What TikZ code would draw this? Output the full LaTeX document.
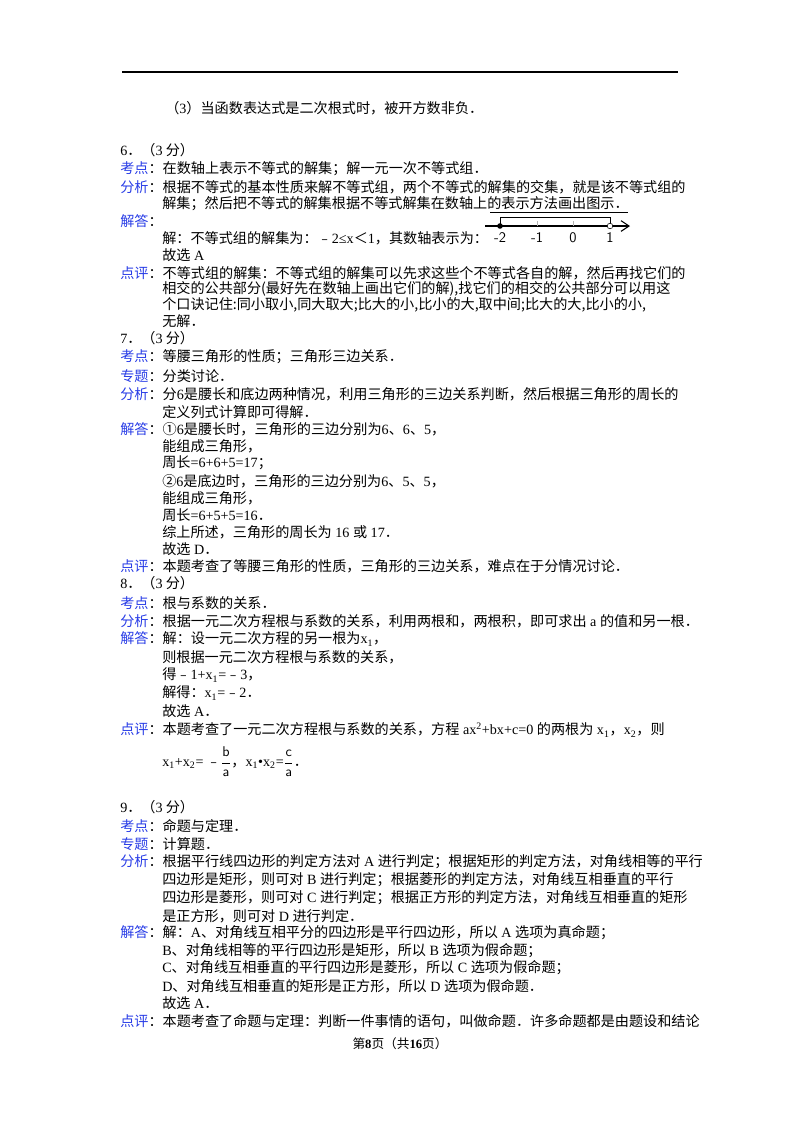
\documentclass[tikz,border=0pt]{standalone}
\usepackage{fontspec}
\usetikzlibrary{arrows.meta}
\setmainfont{Noto Sans CJK SC}
\newfontfamily\latfont{Liberation Serif}
\newcommand\lat[1]{{\latfont #1}}
\definecolor{lb}{RGB}{40,60,230}
\newcommand\lb[1]{\textcolor{lb}{#1}：}
\begin{document}
\begin{tikzpicture}[x=0.75pt,y=-0.75pt,
  t/.style={anchor=west,inner sep=0,font=\fontsize{10.6}{13}\selectfont}]
\useasboundingbox (0,0) rectangle (800,1132);
\draw[line width=0.8pt] (122,72) -- (678,72);
\node[t] (a0) at (165,108) {（\lat{3}）当函数表达式是二次根式时，被开方数非负．};
% Q6
\node[t] (q6) at (120,150) {\lat{6}．（\lat{3} 分）};
\node[t] (q6a) at (120,169) {\lb{考点}在数轴上表示不等式的解集；解一元一次不等式组．};
\node[t] (q6b) at (120,187) {\lb{分析}根据不等式的基本性质来解不等式组，两个不等式的解集的交集，就是该不等式组的};
\node[t] (q6c) at (162,204) {解集；然后把不等式的解集根据不等式解集在数轴上的表示方法画出图示．};
\node[t] (q6d) at (120,221) {\lb{解答}};
\node[t] (q6e) at (162,238) {解：不等式组的解集为：﹣\lat{2≤x}＜\lat{1}，其数轴表示为：};
\node[t] (q6f) at (162,255) {故选\lat{ A}};
\node[t] (q6g) at (120,273) {\lb{点评}不等式组的解集：不等式组的解集可以先求这些个不等式各自的解，然后再找它们的};
\node[t] (q6h) at (162,289) {相交的公共部分(最好先在数轴上画出它们的解),找它们的相交的公共部分可以用这};
\node[t] (q6i) at (162,305) {个口诀记住:同小取小,同大取大;比大的小,比小的大,取中间;比大的大,比小的小,};
\node[t] (q6j) at (162,321) {无解．};
% number line
\coordinate (m2) at (500,226); \coordinate (p1) at (610,226);
\draw[line width=0.7pt] (490,212) -- (628,212);
\draw[-{Straight Barb[length=6pt,width=8pt]},line width=0.8pt] (485,226) -- (630,226);
\foreach \x in {537,573} \draw[gray!60] (\x,221) -- (\x,226);
\draw[line width=0.7pt] (m2) -- (500,217) -- (610,217) -- (p1);
\fill (m2) circle (2.8);
\draw[fill=white] (p1) circle (2.8);
\foreach \x/\l in {500/-2,537/-1,573/0,610/1}
  \node[font=\sffamily\fontsize{11}{13}\selectfont,inner sep=0] (n\x) at (\x,238) {\l};
% Q7
\node[t] (q7) at (120,338) {\lat{7}．（\lat{3} 分）};
\node[t] at (120,357) {\lb{考点}等腰三角形的性质；三角形三边关系．};
\node[t] at (120,376) {\lb{专题}分类讨论．};
\node[t] at (120,394) {\lb{分析}分\lat{6}是腰长和底边两种情况，利用三角形的三边关系判断，然后根据三角形的周长的};
\node[t] at (162,412) {定义列式计算即可得解．};
\node[t] at (120,429) {\lb{解答}①\lat{6}是腰长时，三角形的三边分别为\lat{6}、\lat{6}、\lat{5}，};
\node[t] at (162,446) {能组成三角形，};
\node[t] at (162,463) {周长\lat{=6+6+5=17}；};
\node[t] at (162,481) {②\lat{6}是底边时，三角形的三边分别为\lat{6}、\lat{5}、\lat{5}，};
\node[t] at (162,498) {能组成三角形，};
\node[t] at (162,515) {周长\lat{=6+5+5=16}．};
\node[t] at (162,532) {综上所述，三角形的周长为\lat{ 16 }或\lat{ 17}．};
\node[t] at (162,549) {故选\lat{ D}．};
\node[t] at (120,566) {\lb{点评}本题考查了等腰三角形的性质，三角形的三边关系，难点在于分情况讨论．};
% Q8
\node[t] (q8) at (120,583) {\lat{8}．（\lat{3} 分）};
\node[t] at (120,603) {\lb{考点}根与系数的关系．};
\node[t] at (120,621) {\lb{分析}根据一元二次方程根与系数的关系，利用两根和，两根积，即可求出\lat{ a }的值和另一根．};
\node[t] at (120,639) {\lb{解答}解：设一元二次方程的另一根为\lat{x\textsubscript{1}}，};
\node[t] at (162,657) {则根据一元二次方程根与系数的关系，};
\node[t] at (162,675) {得﹣\lat{1+x\textsubscript{1}=}﹣\lat{3}，};
\node[t] at (162,693) {解得：\lat{x\textsubscript{1}=}﹣\lat{2}．};
\node[t] at (162,711) {故选\lat{ A}．};
\node[t] at (120,730) {\lb{点评}本题考查了一元二次方程根与系数的关系，方程\lat{ ax\textsuperscript{2}+bx+c=0 }的两根为\lat{ x\textsubscript{1}}，\lat{x\textsubscript{2}}，则};
\node[t] at (162,762) {\lat{x\textsubscript{1}+x\textsubscript{2}=} ﹣$\displaystyle\frac{\mathsf{b}}{\mathsf{a}}$，\lat{x\textsubscript{1}•x\textsubscript{2}=}$\displaystyle\frac{\mathsf{c}}{\mathsf{a}}$．};
% Q9
\node[t] (q9) at (120,807) {\lat{9}．（\lat{3} 分）};
\node[t] at (120,826) {\lb{考点}命题与定理．};
\node[t] at (120,844) {\lb{专题}计算题．};
\node[t] at (120,862) {\lb{分析}根据平行线四边形的判定方法对\lat{ A }进行判定；根据矩形的判定方法，对角线相等的平行};
\node[t] at (162,880) {四边形是矩形，则可对\lat{ B }进行判定；根据菱形的判定方法，对角线互相垂直的平行};
\node[t] at (162,898) {四边形是菱形，则可对\lat{ C }进行判定；根据正方形的判定方法，对角线互相垂直的矩形};
\node[t] at (162,916) {是正方形，则可对\lat{ D }进行判定．};
\node[t] at (120,933) {\lb{解答}解：\lat{A}、对角线互相平分的四边形是平行四边形，所以\lat{ A }选项为真命题；};
\node[t] at (162,951) {\lat{B}、对角线相等的平行四边形是矩形，所以\lat{ B }选项为假命题；};
\node[t] at (162,968) {\lat{C}、对角线互相垂直的平行四边形是菱形，所以\lat{ C }选项为假命题；};
\node[t] at (162,986) {\lat{D}、对角线互相垂直的矩形是正方形，所以\lat{ D }选项为假命题．};
\node[t] at (162,1003) {故选\lat{ A}．};
\node[t] at (120,1021) {\lb{点评}本题考查了命题与定理：判断一件事情的语句，叫做命题．许多命题都是由题设和结论};
\node[inner sep=0,font=\fontsize{9.5}{12}\selectfont] (ft) at (400,1044) {第\textbf{\lat{8}}页（共\textbf{\lat{16}}页）};
\end{tikzpicture}
\end{document}
